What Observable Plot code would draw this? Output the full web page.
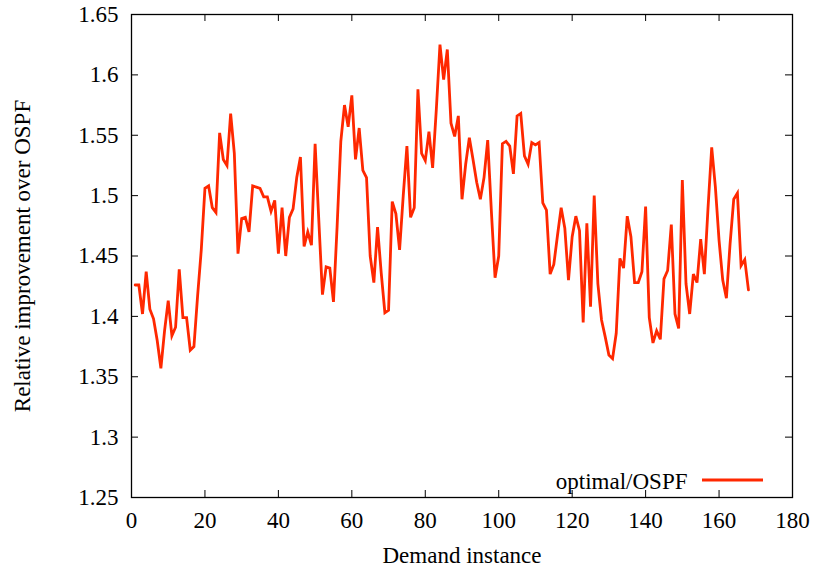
<!DOCTYPE html>
<html>
<head>
<meta charset="utf-8">
<script src="https://cdn.jsdelivr.net/npm/d3@7"></script>
<script src="https://cdn.jsdelivr.net/npm/@observablehq/plot@0.6"></script>
<style>
  html, body { margin: 0; padding: 0; background: #fff; }
  svg { display: block; }
  svg text { font-family: 'Liberation Serif', 'DejaVu Serif', serif !important; }
</style>
</head>
<body>
<div id="chart"></div>
<script>
const instances = d3.range(1, 169);
const ratio = [
  1.426, 1.426, 1.402, 1.437, 1.406, 1.398, 1.380, 1.357, 1.388, 1.413,
  1.384, 1.391, 1.439, 1.399, 1.399, 1.372, 1.375, 1.417, 1.455, 1.506,
  1.508, 1.490, 1.486, 1.552, 1.530, 1.525, 1.568, 1.535, 1.452, 1.481,
  1.482, 1.470, 1.508, 1.507, 1.506, 1.499, 1.499, 1.487, 1.496, 1.452,
  1.490, 1.450, 1.482, 1.489, 1.515, 1.532, 1.458, 1.470, 1.459, 1.543,
  1.480, 1.418, 1.441, 1.440, 1.412, 1.475, 1.545, 1.575, 1.557, 1.583,
  1.530, 1.556, 1.521, 1.515, 1.450, 1.428, 1.474, 1.436, 1.403, 1.405,
  1.495, 1.485, 1.455, 1.500, 1.541, 1.482, 1.490, 1.588, 1.535, 1.529,
  1.553, 1.523, 1.571, 1.625, 1.596, 1.621, 1.560, 1.549, 1.566, 1.497,
  1.526, 1.548, 1.530, 1.511, 1.497, 1.515, 1.546, 1.487, 1.432, 1.450,
  1.543, 1.545, 1.541, 1.518, 1.566, 1.568, 1.533, 1.526, 1.544, 1.542,
  1.544, 1.494, 1.488, 1.435, 1.443, 1.467, 1.490, 1.473, 1.430, 1.466,
  1.483, 1.471, 1.395, 1.477, 1.408, 1.500, 1.427, 1.397, 1.383, 1.368,
  1.365, 1.386, 1.448, 1.440, 1.483, 1.466, 1.428, 1.428, 1.437, 1.491,
  1.399, 1.378, 1.388, 1.381, 1.431, 1.438, 1.476, 1.402, 1.390, 1.513,
  1.427, 1.402, 1.435, 1.428, 1.464, 1.435, 1.490, 1.540, 1.507, 1.463,
  1.430, 1.415, 1.460, 1.497, 1.502, 1.442, 1.447, 1.422
];
const xTicks = [0, 20, 40, 60, 80, 100, 120, 140, 160, 180];
const yTicks = [1.25, 1.3, 1.35, 1.4, 1.45, 1.5, 1.55, 1.6, 1.65];
const xLabel = "Demand instance";
const yLabel = "Relative improvement over OSPF";
const seriesName = "optimal/OSPF";

const data = instances.map((x, i) => ({x, y: ratio[i]}));
const color = "#ff2800";
const font = "'Liberation Serif', 'DejaVu Serif', serif";
const fs = 23;

const W = 814, H = 569, mL = 131, mR = 22, mT = 14, mB = 72;
const innerW = W - mL - mR, innerH = H - mT - mB;
const tl = 7;

const chart = Plot.plot({
  width: W,
  height: H,
  marginLeft: mL,
  marginRight: mR,
  marginTop: mT,
  marginBottom: mB,
  style: {fontFamily: font, fontSize: fs + "px", color: "#000", background: "#fff"},
  x: {domain: [0, 180], ticks: xTicks},
  y: {domain: [1.25, 1.65], ticks: yTicks},
  marks: [
    Plot.axisX(xTicks, {tickSize: 0, tickPadding: 14, label: null, fontSize: fs, fontFamily: font}),
    Plot.axisY(yTicks, {tickSize: 0, tickPadding: 13, label: null, fontSize: fs, fontFamily: font,
      tickFormat: d => String(+d.toFixed(2))}),
    Plot.tickX(xTicks, {x: d => d, insetTop: innerH - tl, stroke: "#000", strokeWidth: 1}),
    Plot.tickX(xTicks, {x: d => d, insetBottom: innerH - tl, stroke: "#000", strokeWidth: 1}),
    Plot.tickY(yTicks, {y: d => d, insetRight: innerW - tl, stroke: "#000", strokeWidth: 1}),
    Plot.tickY(yTicks, {y: d => d, insetLeft: innerW - tl, stroke: "#000", strokeWidth: 1}),
    Plot.line(data, {x: "x", y: "y", stroke: color, strokeWidth: 2.8, strokeLinejoin: "miter", strokeMiterlimit: 4}),
    Plot.frame({stroke: "#000", strokeWidth: 1.3}),
    Plot.text([xLabel], {frameAnchor: "bottom", dy: 58, lineAnchor: "middle", fontSize: fs, fontFamily: font}),
    Plot.text([yLabel], {frameAnchor: "left", dx: -109, rotate: -90, textAnchor: "middle", lineAnchor: "middle", fontSize: fs, fontFamily: font}),
    Plot.text([seriesName], {frameAnchor: "bottom-right", dx: -105, dy: -16, textAnchor: "end", lineAnchor: "middle", fontSize: fs, fontFamily: font})
  ]
});

const svg = d3.select(chart);
svg.selectAll("text").attr("font-family", font).style("font-family", font);

// legend sample line
svg.append("line")
  .attr("x1", W - mR - 90).attr("x2", W - mR - 29)
  .attr("y1", H - mB - 17).attr("y2", H - mB - 17)
  .attr("stroke", color).attr("stroke-width", 2.8);

document.getElementById("chart").appendChild(chart);
</script>
</body>
</html>
